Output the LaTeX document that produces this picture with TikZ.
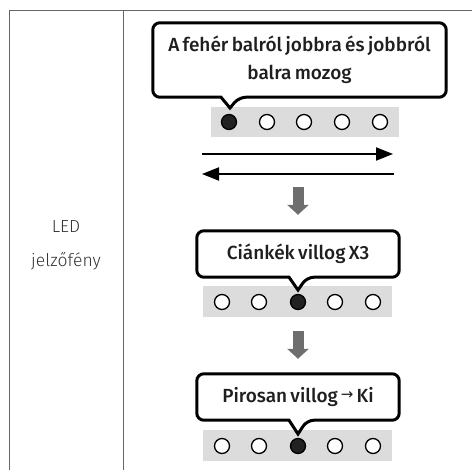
\documentclass[tikz,border=0pt]{standalone}
\usepackage{fontspec}
\setmainfont{Fira Sans}
\newfontfamily\calloutfont{Fira Sans}[UprightFont={* Medium},WordSpace=0.7]
\newfontfamily\labelfont{Fira Sans}[UprightFont={* Light}]
\newfontfamily\arrfont{DejaVu Sans}
\usetikzlibrary{arrows.meta}
\definecolor{tableline}{HTML}{666666}
\definecolor{stripgray}{HTML}{DCDCDC}
\definecolor{ledon}{HTML}{222222}
\definecolor{flowgray}{HTML}{6E6E6E}
\begin{document}
\begin{tikzpicture}[x=1pt,y=-1pt,
  tablerule/.style={draw=tableline,line width=1pt},
  strip/.style={fill=stripgray,draw=none,inner sep=0pt},
  ledoff/.style={circle,draw=black,fill=white,line width=1.3pt,minimum size=15pt,inner sep=0pt},
  ledlit/.style={ledoff,fill=ledon},
  calloutbox/.style={draw=none,inner sep=0pt},
  outline/.style={draw=black,fill=white,line width=3pt,rounded corners=7pt},
  callouttext/.style={align=center,inner sep=0pt,font={\calloutfont\fontsize{19}{28}\selectfont},text=black!88},
  flowarrow/.style={draw=black,line width=2pt,-{Triangle[length=17pt,width=13pt]}},
  steparrow/.style={draw=flowgray,line width=11pt,-{Triangle[length=10pt,width=21pt]}},
  sidelabel/.style={align=center,inner sep=0pt,font={\labelfont\fontsize{17.5}{34}\selectfont},text=black!80}
]
\useasboundingbox (0,0) rectangle (472,470);
% table
\draw[tablerule] (9,11) -- (472,11);
\draw[tablerule] (9,11) -- (9,470);
\draw[tablerule] (123,11) -- (123,470);
\node[sidelabel] (side) at (66,245) {LED\\jelzőfény};

% ---- stage 1
\node[strip,minimum width=188pt,minimum height=30pt] (s1) at (305,122) {};
\node[calloutbox,minimum width=293pt,minimum height=74pt] (b1) at (299.5,60) {};
\coordinate (t1) at (230,108);
\draw[outline] (b1.north) -- (b1.north east) -- (b1.south east) -- ([xshift=9pt]t1 |- b1.south) [sharp corners] -- (t1) -- ([xshift=-9pt]t1 |- b1.south) [rounded corners=7pt] -- (b1.south west) -- (b1.north west) -- cycle;
\node[callouttext] (c1) at (b1.center) {A fehér balról jobbra és jobbról\\balra mozog};
\node[ledlit] (l11) at (229,122) {};
\node[ledoff] (l12) at (267,122) {};
\node[ledoff] (l13) at (304,122) {};
\node[ledoff] (l14) at (342,122) {};
\node[ledoff] (l15) at (380,122) {};
\coordinate (ra) at (202,154);
\coordinate (rb) at (393,154);
\coordinate (la) at (394,174);
\coordinate (lb) at (202,174);
\draw[flowarrow] (ra) -- (rb);
\draw[flowarrow] (la) -- (lb);

% ---- stage 2
\node[strip,minimum width=189pt,minimum height=31pt] (s2) at (297.5,301.5) {};
\node[calloutbox,minimum width=202pt,minimum height=46pt] (b2) at (298,254) {};
\coordinate (t2) at (298,290);
\draw[outline] (b2.north) -- (b2.north east) -- (b2.south east) -- ([xshift=9pt]t2 |- b2.south) [sharp corners] -- (t2) -- ([xshift=-9pt]t2 |- b2.south) [rounded corners=7pt] -- (b2.south west) -- (b2.north west) -- cycle;
\node[callouttext] (c2) at (b2.center) {Ciánkék villog X3};
\node[ledoff] (l21) at (222,302) {};
\node[ledoff] (l22) at (259,302) {};
\node[ledlit] (l23) at (298,302) {};
\node[ledoff] (l24) at (335,302) {};
\node[ledoff] (l25) at (373,302) {};
\coordinate (a1) at (298,187);
\draw[steparrow] (a1) -- ([yshift=16pt]b2.north);

% ---- stage 3
\node[strip,minimum width=189pt,minimum height=31pt] (s3) at (297.5,445.5) {};
\node[calloutbox,minimum width=202pt,minimum height=46pt] (b3) at (298,397) {};
\coordinate (t3) at (298,434);
\draw[outline] (b3.north) -- (b3.north east) -- (b3.south east) -- ([xshift=9pt]t3 |- b3.south) [sharp corners] -- (t3) -- ([xshift=-9pt]t3 |- b3.south) [rounded corners=7pt] -- (b3.south west) -- (b3.north west) -- cycle;
\node[callouttext] (c3) at (b3.center) {Pirosan villog\,\raisebox{2.5pt}{\arrfont\fontsize{15}{15}\selectfont →}\,Ki};
\node[ledoff] (l31) at (222,446) {};
\node[ledoff] (l32) at (259,446) {};
\node[ledlit] (l33) at (298,446) {};
\node[ledoff] (l34) at (335,446) {};
\node[ledoff] (l35) at (373,446) {};
\coordinate (a2) at (298,331);
\draw[steparrow] (a2) -- ([yshift=15pt]b3.north);
\end{tikzpicture}
\end{document}
